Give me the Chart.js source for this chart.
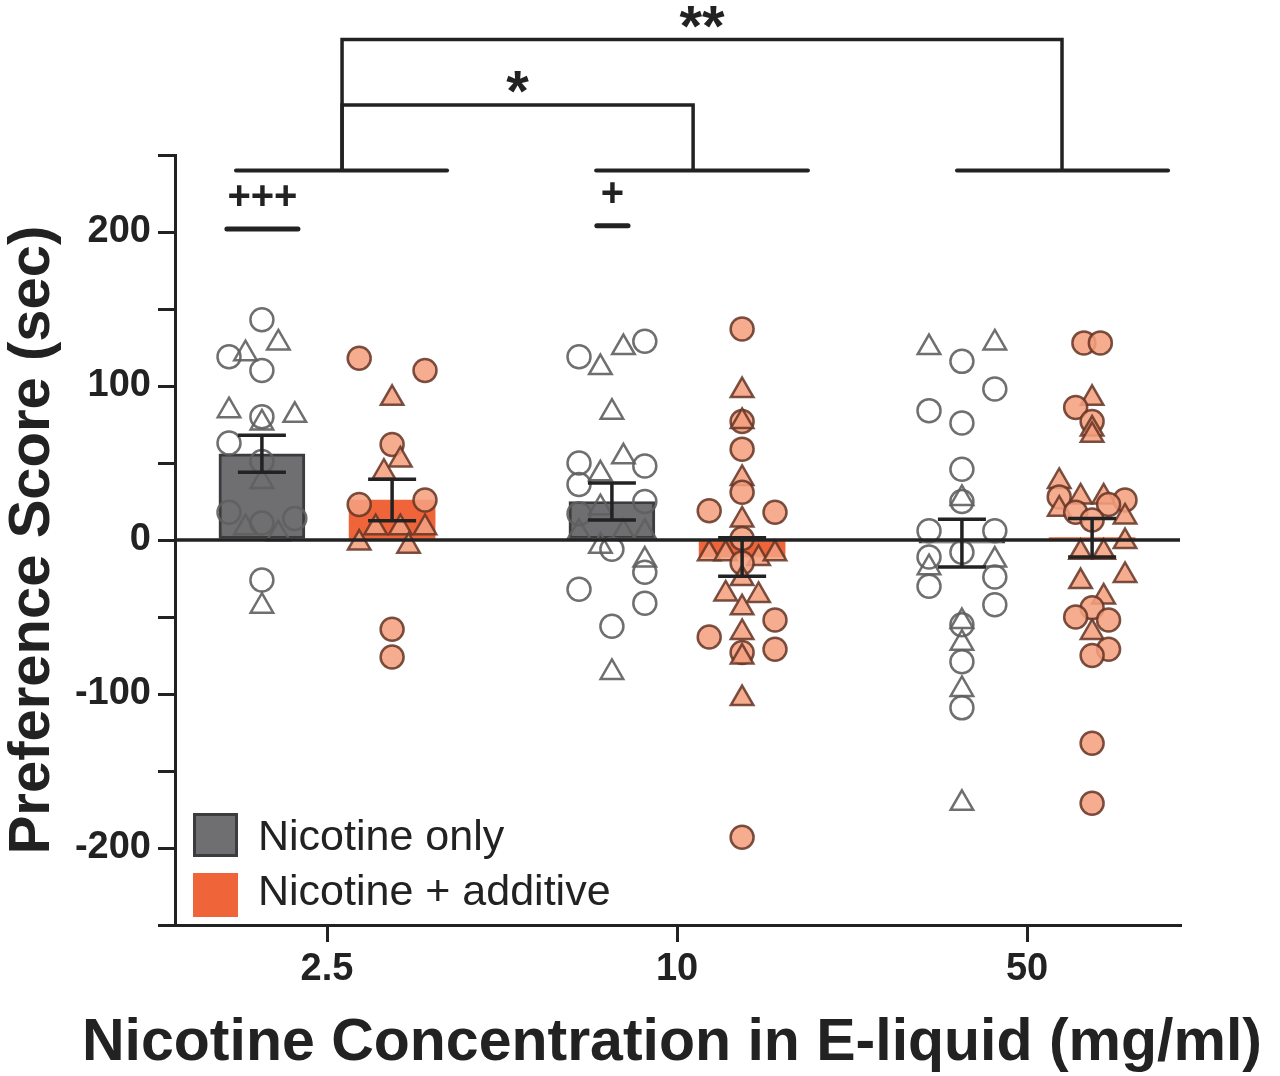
<!DOCTYPE html>
<html lang="en">
<head>
<meta charset="UTF-8">
<title>Preference Score</title>
<style>
    body { margin: 0; background: #fff; }
    #wrap { width: 1280px; height: 1076px; }
</style>
</head>
<body>
<div id="wrap"><canvas id="prefChart" width="1280" height="1076"></canvas></div>
<script src="https://cdn.jsdelivr.net/npm/chart.js@4.4.1/dist/chart.umd.min.js"></script>
<script>
// ---- data ----
const concentrations = ['2.5', '10', '50'];
const xTitle = 'Nicotine Concentration in E-liquid (mg/ml)';

const meanOnly = [56, 25, -2];
const semOnly  = [12, 12, 15.5];
const meanAdd  = [26, -11, 1.5];
const semAdd   = [13.5, 12.5, 12.5];

// individual animals: [shape, jitter column, score]; 'o' = circle, '^' = triangle
const only_2_5 = [
    ['o',0,143],['^',1,128],['o',-2,119],['^',-1,121],['o',0,110],['^',-2,84],['o',0,80],
    ['^',0,76],['^',2,81],['o',-2,63],['o',0,51],['^',0,38],['o',-2,18],['o',0,11],
    ['o',2,14],['^',-1,8],['^',1,4],['o',0,-26],['^',0,-43]
];
const add_2_5 = [
    ['o',-2,118],['o',2,110],['^',0,92],['o',0,62],['^',0.5,52],['^',-0.5,44],['o',-2,23],
    ['o',2,26],['^',-1,8],['^',0.5,8],['^',2,8],['^',-2,-2],['^',1,-4],['o',0,-58],['o',0,-76]
];
const only_10 = [
    ['o',-2,119],['^',-0.7,112],['^',0.7,125],['o',2,129],['^',0,83],['o',-2,50],['^',0.7,54],
    ['o',2,48],['^',-0.7,43],['o',-2,36],['o',2,25],['o',-2,17],['^',-0.7,21],['^',-2,5],
    ['^',0.7,5],['^',2,5],['^',-0.7,-4],['o',0,-6],['^',2,-13],['o',2,-21],['o',-2,-32],
    ['o',2,-41],['o',0,-56],['^',0,-86]
];
const add_10 = [
    ['o',0,137],['^',0,97],['o',0,77],['^',0,77],['o',0,59],['^',0,40],['o',0,31],['o',-2,19],
    ['o',2,18],['^',0,13],['o',0,1],['^',-2,-9],['^',-1,-9],['^',1,-12],['^',2,-9],['o',0,-15],
    ['^',0,-25],['^',-1,-35],['^',1,-36],['^',0,-44],['o',2,-52],['^',0,-60],['o',-2,-63],
    ['o',2,-71],['o',0,-73],['^',0,-76],['^',0,-103],['o',0,-193]
];
const only_50 = [
    ['^',-2,125],['^',2,128],['o',0,116],['o',2,98],['o',-2,84],['o',0,76],['o',0,46],['^',0,27],
    ['o',0,25],['o',-2,6],['o',2,6],['o',0,-8],['o',-2,-11],['^',2,-13],['^',-2,-18],['o',2,-24],
    ['o',-2,-30],['o',2,-42],['^',0,-53],['o',0,-55],['^',0,-67],['o',0,-79],['^',0,-97],
    ['o',0,-109],['^',0,-171]
];
const add_50 = [
    ['o',-0.5,128],['o',0.5,128],['^',0,92],['o',-1,86],['o',0,77],['^',0,72],['^',0,68],
    ['^',-2,38],['o',-2,28],['^',-0.7,28],['^',0.7,28],['o',2,26],['o',1,23],['^',-2,20],
    ['o',-1,18],['o',0,13],['^',2,15],['^',2,-1],['^',-0.7,-8],['^',0.7,-8],['^',2,-23],
    ['^',-0.7,-27],['^',0.7,-37],['o',0,-44],['o',-1,-50],['o',1,-52],['^',0,-60],['o',1,-71],
    ['o',0,-75],['o',0,-132],['o',0,-171]
];

// significance marks (x in category units, y in seconds)
const groupLines = [[-0.26, 0.343], [0.769, 1.374], [1.8, 2.403]];
const groupLineY = 240;
const comparisons = [
    { from: 0.043, to: 1.046, y: 282.5, label: '*' },
    { from: 0.043, to: 2.1,   y: 325,   label: '**' }
];
const withinMarks = [
    { x1: -0.286, x2: -0.083, y: 202, label: '+++' },
    { x1: 0.771,  x2: 0.86,   y: 204, label: '+' }
];

// ---- look ----
const FONT = "'Liberation Sans', Arial, Helvetica, sans-serif";
const INK = '#222';
const GRAY = '#6f6e70';
const GRAY_EDGE = '#3c3b3d';
const ORANGE = '#EF6539';
const SIDE = 0.186;   // distance from tick to each column
const COL = 0.047;    // jitter step

function scatterFrom(lists, side) {
    const data = [], styles = [], radii = [];
    lists.forEach((list, g) => list.forEach(p => {
        data.push({ x: g + side + p[1] * COL, y: p[2] });
        styles.push(p[0] === 'o' ? 'circle' : 'triangle');
        radii.push(p[0] === 'o' ? 11.5 : 13);
    }));
    return { data, styles, radii };
}

const onlyPts = scatterFrom([only_2_5, only_10, only_50], -SIDE);
const addPts = scatterFrom([add_2_5, add_10, add_50], SIDE);

const overlay = {
    id: 'overlay',
    afterDatasetsDraw(chart) {
        const { ctx, chartArea: a, scales: { x, y } } = chart;
        ctx.save();
        ctx.strokeStyle = INK;
        ctx.lineWidth = 3.5;
        const y0 = y.getPixelForValue(0);
        ctx.beginPath();
        ctx.moveTo(a.left, y0);
        ctx.lineTo(a.right, y0);
        ctx.stroke();

        [[meanOnly, semOnly, -SIDE], [meanAdd, semAdd, SIDE]].forEach(([m, s, side]) => {
            m.forEach((v, i) => {
                const px = x.getPixelForValue(i + side);
                const top = y.getPixelForValue(v + s[i]);
                const bot = y.getPixelForValue(v - s[i]);
                ctx.beginPath();
                ctx.moveTo(px, top); ctx.lineTo(px, bot);
                ctx.moveTo(px - 24, top); ctx.lineTo(px + 24, top);
                ctx.moveTo(px - 24, bot); ctx.lineTo(px + 24, bot);
                ctx.stroke();
            });
        });
        ctx.restore();
    },
    afterDraw(chart) {
        const { ctx, chartArea: a, scales: { x, y } } = chart;
        ctx.save();
        ctx.strokeStyle = INK;
        ctx.fillStyle = INK;
        ctx.lineCap = 'round';

        // bracket feet over each concentration
        ctx.lineWidth = 4;
        groupLines.forEach(([x1, x2]) => {
            ctx.beginPath();
            ctx.moveTo(x.getPixelForValue(x1), y.getPixelForValue(groupLineY));
            ctx.lineTo(x.getPixelForValue(x2), y.getPixelForValue(groupLineY));
            ctx.stroke();
        });

        // between-concentration comparisons
        ctx.lineWidth = 3.5;
        ctx.lineCap = 'butt';
        ctx.textAlign = 'center';
        ctx.textBaseline = 'alphabetic';
        ctx.font = 'bold 58px ' + FONT;
        comparisons.forEach(c => {
            const xa = x.getPixelForValue(c.from), xb = x.getPixelForValue(c.to);
            const yt = y.getPixelForValue(c.y), yb = y.getPixelForValue(groupLineY);
            ctx.beginPath();
            ctx.moveTo(xa, yb); ctx.lineTo(xa, yt); ctx.lineTo(xb, yt); ctx.lineTo(xb, yb);
            ctx.stroke();
            ctx.fillText(c.label, (xa + xb) / 2, yt - 28 + 34);
        });

        // within-concentration marks
        ctx.lineCap = 'round';
        ctx.lineWidth = 5;
        ctx.font = 'bold 40px ' + FONT;
        withinMarks.forEach(m => {
            const xa = x.getPixelForValue(m.x1), xb = x.getPixelForValue(m.x2);
            const yl = y.getPixelForValue(m.y);
            ctx.beginPath();
            ctx.moveTo(xa, yl); ctx.lineTo(xb, yl);
            ctx.stroke();
            ctx.fillText(m.label, (xa + xb) / 2, yl - 34 + 14);
        });

        // x axis title (drawn here so it can run wider than the plot)
        ctx.font = 'bold 59px ' + FONT;
        ctx.fillText(xTitle, 672, chart.height - 16);

        // legend
        const bars = chart.data.datasets.filter(d => d.type === 'bar');
        ctx.font = '43px ' + FONT;
        ctx.textAlign = 'left';
        bars.forEach((d, i) => {
            const bx = a.left + 18, by = a.bottom - 112 + i * 60;
            ctx.fillStyle = d.backgroundColor;
            ctx.fillRect(bx, by, 45, 44);
            if (d.borderWidth) {
                ctx.strokeStyle = d.borderColor;
                ctx.lineWidth = d.borderWidth;
                ctx.strokeRect(bx + 1.5, by + 1.5, 42, 41);
            }
            ctx.fillStyle = INK;
            ctx.fillText(d.label, a.left + 83, a.bottom - 75 + i * 55);
        });
        ctx.restore();
    }
};

new Chart(document.getElementById('prefChart'), {
    type: 'scatter',
    data: {
        datasets: [
            {
                type: 'scatter',
                label: 'Nicotine only (animals)',
                data: onlyPts.data,
                pointStyle: onlyPts.styles,
                pointRadius: onlyPts.radii,
                backgroundColor: 'rgba(255,255,255,0)',
                borderColor: 'rgba(95,95,95,0.9)',
                borderWidth: 2.5,
                order: 1
            },
            {
                type: 'scatter',
                label: 'Nicotine + additive (animals)',
                data: addPts.data,
                pointStyle: addPts.styles,
                pointRadius: addPts.radii,
                backgroundColor: 'rgba(245,160,127,0.88)',
                borderColor: 'rgba(100,52,36,0.85)',
                borderWidth: 2.5,
                order: 1
            },
            {
                type: 'bar',
                label: 'Nicotine only',
                data: meanOnly.map((v, i) => ({ x: i - SIDE, y: v })),
                backgroundColor: GRAY,
                borderColor: GRAY_EDGE,
                borderWidth: 3,
                borderSkipped: false,
                grouped: false,
                barThickness: 86,
                order: 3
            },
            {
                type: 'bar',
                label: 'Nicotine + additive',
                data: meanAdd.map((v, i) => ({ x: i + SIDE, y: v })),
                backgroundColor: ORANGE,
                borderWidth: 0,
                grouped: false,
                barThickness: 86,
                order: 2
            }
        ]
    },
    options: {
        responsive: false,
        animation: false,
        layout: { padding: { top: 155, right: 100, left: 0, bottom: 0 } },
        plugins: {
            legend: { display: false },
            tooltip: { enabled: false }
        },
        scales: {
            x: {
                type: 'linear',
                min: -0.4343,
                max: 2.4371,
                offset: false,
                afterBuildTicks: s => { s.ticks = concentrations.map((c, i) => ({ value: i })); },
                afterFit: s => { s.height = 151; },
                ticks: {
                    callback: v => concentrations[v],
                    font: { family: FONT, size: 38, weight: 'bold', lineHeight: 1.2 },
                    color: INK,
                    padding: 5,
                    maxRotation: 0
                },
                grid: { offset: false, drawOnChartArea: false, drawTicks: true, tickLength: 17, color: INK, lineWidth: 3 },
                border: { display: true, color: INK, width: 3 },
                title: { display: false }
            },
            y: {
                min: -250,
                max: 250,
                afterFit: s => { s.width = 175; },
                ticks: {
                    stepSize: 50,
                    callback: v => (v % 100 === 0 ? v : ''),
                    font: { family: FONT, size: 38, weight: 'bold' },
                    color: INK,
                    padding: 7
                },
                grid: { drawOnChartArea: false, drawTicks: true, tickLength: 17, color: INK, lineWidth: 3 },
                border: { display: true, color: INK, width: 3 },
                title: {
                    display: true,
                    text: 'Preference Score (sec)',
                    font: { family: FONT, size: 58, weight: 'bold', lineHeight: 1 },
                    color: INK,
                    padding: { top: 4, bottom: 0 }
                }
            }
        }
    },
    plugins: [overlay]
});
</script>
</body>
</html>
